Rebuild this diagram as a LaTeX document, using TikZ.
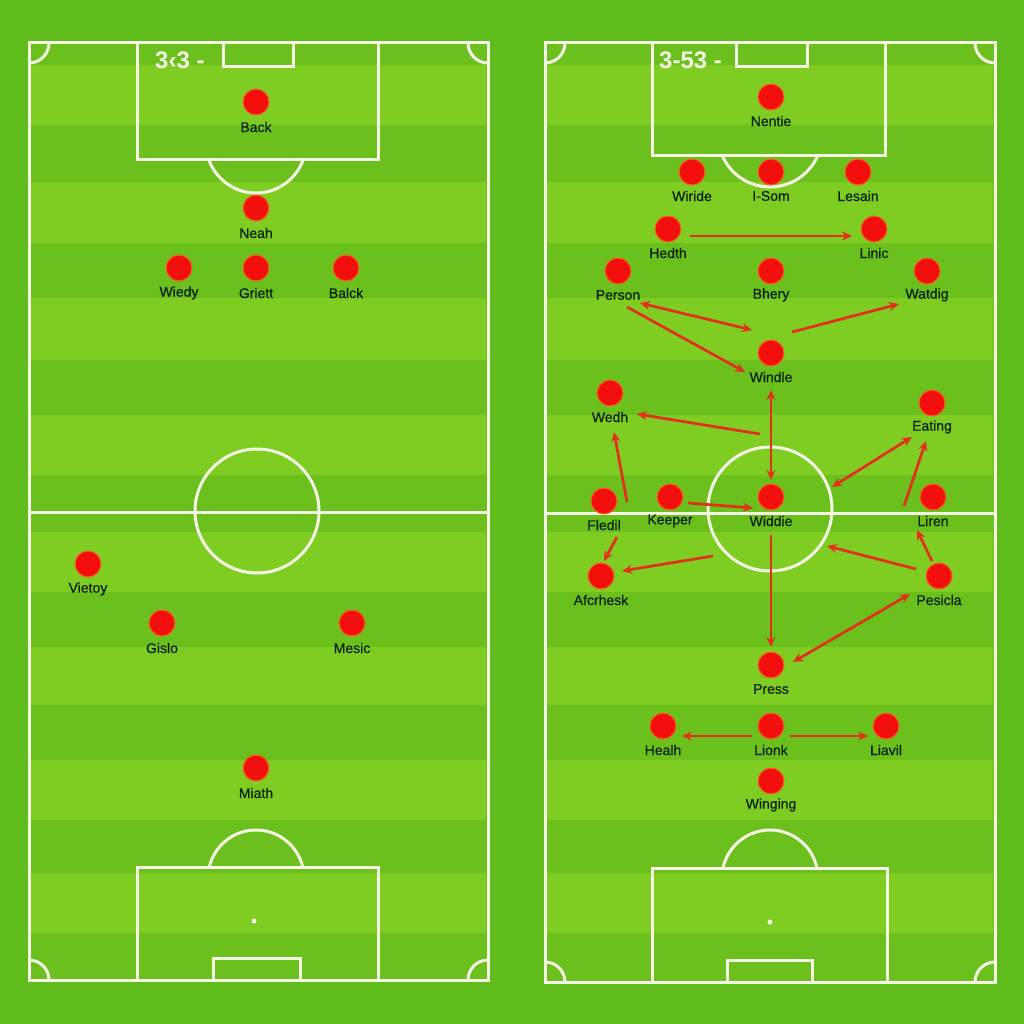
\documentclass[tikz,border=0pt]{standalone}
\usepackage{fontspec}
\setmainfont{Liberation Sans}
\newfontfamily\plabelfont[FakeBold=0.7]{Liberation Sans}
\usetikzlibrary{arrows.meta}
\definecolor{bggreen}{HTML}{60BB1D}
\definecolor{darkband}{HTML}{6CC01D}
\definecolor{lightband}{HTML}{7FCD23}
\definecolor{chalk}{HTML}{F4F7E4}
\definecolor{dotred}{HTML}{F40F0F}
\definecolor{dotrim}{HTML}{F2641A}
\definecolor{arrowred}{HTML}{E3301C}
\definecolor{labeltext}{HTML}{0C220C}
\tikzset{
  chalkline/.style={draw=chalk, line width=3pt},
  player/.style={circle, fill=dotred, draw=dotrim, line width=1pt, minimum size=26pt, inner sep=0pt},
  plabel/.style={text=labeltext, font=\plabelfont\fontsize{14}{16}\selectfont, inner sep=0pt, anchor=center},
  title/.style={text=chalk, font=\bfseries\fontsize{24}{26}\selectfont, inner sep=0pt, anchor=west},
  movearrow/.style={draw=arrowred, line width=2.7pt, -{Stealth[length=10pt,width=9pt]}},
  twoway/.style={draw=arrowred, line width=2.7pt, {Stealth[length=10pt,width=9pt]}-{Stealth[length=10pt,width=9pt]}}
}
\begin{document}
\begin{tikzpicture}[x=1pt,y=-1pt]
\useasboundingbox (0,0) rectangle (1024,1024);
\fill[bggreen] (0,0) rectangle (1024,1024);

% ---------- pitch bases and stripes ----------
\fill[darkband] (29,43) rectangle (488,980);
\fill[darkband] (545,43) rectangle (995,982);
\foreach \a/\b in {65/125,182/243,298/360,415/475,532/592,647/705,760/820,873/933}{
  \fill[lightband] (31,\a) rectangle (486,\b);
  \fill[lightband] (547,\a) rectangle (993,\b);
}

% ---------- left pitch markings ----------
\draw[chalkline] (29,43) rectangle (488,980);
\draw[chalkline] (29,512) -- (488,512);
\draw[chalkline] (257,511) circle (62pt);
\draw[chalkline] (137,43) rectangle (378,160);
\draw[chalkline] (223,43) rectangle (293,67);
\begin{scope}
  \clip (29,161) rectangle (488,300);
  \draw[chalkline] (256,143) circle (50pt);
\end{scope}
\draw[chalkline] (137,867) rectangle (378,980);
\draw[chalkline] (213,958) rectangle (300,980);
\begin{scope}
  \clip (29,700) rectangle (488,866);
  \draw[chalkline] (256,878) circle (48pt);
\end{scope}
\fill[chalk] (254,921) circle (2.5pt);
\begin{scope}
  \clip (29,43) rectangle (488,980);
  \draw[chalkline] (29,43) circle (20pt);
  \draw[chalkline] (488,43) circle (20pt);
  \draw[chalkline] (29,980) circle (20pt);
  \draw[chalkline] (488,980) circle (20pt);
\end{scope}

% ---------- right pitch markings ----------
\draw[chalkline] (545,43) rectangle (995,982);
\draw[chalkline] (545,513) -- (995,513);
\draw[chalkline] (770,509) circle (62pt);
\draw[chalkline] (652,43) rectangle (885,156);
\draw[chalkline] (736,43) rectangle (807,67);
\begin{scope}
  \clip (545,157) rectangle (995,300);
  \draw[chalkline] (770,135) circle (52pt);
\end{scope}
\draw[chalkline] (652,868) rectangle (887,982);
\draw[chalkline] (727,960) rectangle (812,982);
\begin{scope}
  \clip (545,700) rectangle (995,867);
  \draw[chalkline] (770,878) circle (48pt);
\end{scope}
\fill[chalk] (770,922) circle (2.5pt);
\begin{scope}
  \clip (545,43) rectangle (995,982);
  \draw[chalkline] (545,43) circle (20pt);
  \draw[chalkline] (995,43) circle (20pt);
  \draw[chalkline] (545,982) circle (20pt);
  \draw[chalkline] (995,982) circle (20pt);
\end{scope}

% ---------- titles ----------
\node[title] (ltitle) at (155,60) {3‹3 -};
\node[title] (rtitle) at (659,60) {3-53 -};

% ---------- left formation ----------
\foreach \n/\x/\y/\t in {
  lback/256/102/Back,
  lneah/256/208/Neah,
  lwiedy/179/268/Wiedy,
  lgriett/256/268/Griett,
  lbalck/346/268/Balck,
  lvietoy/88/564/Vietoy,
  lgislo/162/623/Gislo,
  lmesic/352/623/Mesic,
  lmiath/256/768/Miath}{
  \node[player] (\n) at (\x,\y) {};
  \node[plabel] (\n-t) at (\x,\y+25) {\t};
}

% ---------- right formation ----------
\foreach \n/\x/\y/\t in {
  rnentie/771/97/Nentie,
  rwiride/692/172/Wiride,
  rsom/771/172/I-Som,
  rlesain/858/172/Lesain,
  rhedth/668/229/Hedth,
  rlinic/874/229/Linic,
  rperson/618/271/Person,
  rbhery/771/271/Bhery,
  rwatdig/927/271/Watdig,
  rwindle/771/353/Windle,
  rwedh/610/393/Wedh,
  reating/932/403/Eating,
  rfledil/604/501/Fledil,
  rkeeper/670/497/Keeper,
  rwiddie/771/497/Widdie,
  rliren/933/497/Liren,
  rafcrhesk/601/576/Afcrhesk,
  rpesicla/939/576/Pesicla,
  rpress/771/665/Press,
  rhealh/663/726/Healh,
  rlionk/771/726/Lionk,
  rliavil/886/726/Liavil,
  rwinging/771/781/Winging}{
  \node[player] (\n) at (\x,\y) {};
  \node[plabel] (\n-t) at (\x,\y+24) {\t};
}

% ---------- arrow end points ----------
\coordinate (a1s) at (690,236);  \coordinate (a1e) at (852,236);
\coordinate (a2s) at (640,303);  \coordinate (a2e) at (752,330);
\coordinate (a3s) at (627,307);  \coordinate (a3e) at (745,372);
\coordinate (a4s) at (792,332);  \coordinate (a4e) at (899,304);
\coordinate (a5s) at (771,390);  \coordinate (a5e) at (771,480);
\coordinate (a6s) at (760,434);  \coordinate (a6e) at (637,414);
\coordinate (a7s) at (627,502);  \coordinate (a7e) at (614,432);
\coordinate (a8s) at (688,503);  \coordinate (a8e) at (753,508);
\coordinate (a9s) at (912,437);  \coordinate (a9e) at (832,487);
\coordinate (a10s) at (904,506); \coordinate (a10e) at (926,441);
\coordinate (a11s) at (617,537); \coordinate (a11e) at (604,561);
\coordinate (a12s) at (713,556); \coordinate (a12e) at (622,571);
\coordinate (a13s) at (916,569); \coordinate (a13e) at (827,546);
\coordinate (a14s) at (932,561); \coordinate (a14e) at (917,530);
\coordinate (a15s) at (771,535); \coordinate (a15e) at (771,647);
\coordinate (a16s) at (910,594); \coordinate (a16e) at (793,662);
\coordinate (a17s) at (752,736); \coordinate (a17e) at (682,736);
\coordinate (a18s) at (790,736); \coordinate (a18e) at (868,736);

% ---------- arrows ----------
\draw[movearrow] (a1s) -- (a1e);
\draw[twoway] (a2s) -- (a2e);
\draw[movearrow] (a3s) -- (a3e);
\draw[movearrow] (a4s) -- (a4e);
\draw[twoway] (a5s) -- (a5e);
\draw[movearrow] (a6s) -- (a6e);
\draw[movearrow] (a7s) -- (a7e);
\draw[movearrow] (a8s) -- (a8e);
\draw[twoway] (a9s) -- (a9e);
\draw[movearrow] (a10s) -- (a10e);
\draw[movearrow] (a11s) -- (a11e);
\draw[movearrow] (a12s) -- (a12e);
\draw[movearrow] (a13s) -- (a13e);
\draw[movearrow] (a14s) -- (a14e);
\draw[movearrow] (a15s) -- (a15e);
\draw[twoway] (a16s) -- (a16e);
\draw[movearrow] (a17s) -- (a17e);
\draw[movearrow] (a18s) -- (a18e);
\end{tikzpicture}
\end{document}
